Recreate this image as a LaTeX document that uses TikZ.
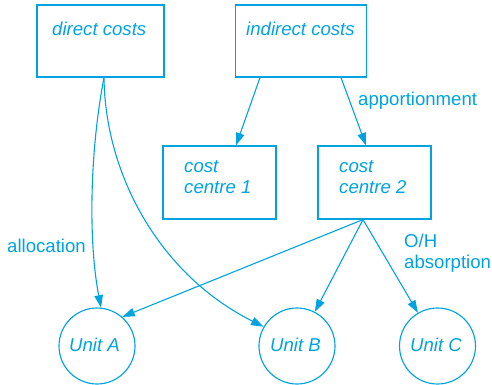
\documentclass[tikz,border=0pt]{standalone}
\usepackage{fontspec}
\setmainfont{Liberation Sans}
\usetikzlibrary{arrows.meta,calc}
\definecolor{cy}{RGB}{0,163,224}
\begin{document}
\begin{tikzpicture}[x=1pt,y=-1pt,
  every node/.style={font=\fontsize{18.6}{21.5}\selectfont, text=cy},
  box/.style={draw=cy, line width=1.15pt, rectangle, inner sep=0pt},
  unit/.style={draw=cy, line width=1.15pt, circle, minimum size=76pt, inner sep=0pt, font=\fontsize{18.6}{21.5}\selectfont\itshape},
  boxtxt/.style={anchor=base west, inner sep=0pt, font=\fontsize{18.6}{21.5}\selectfont\itshape},
  lbl/.style={anchor=base west, inner sep=0pt, align=left},
  conn/.style={draw=cy, line width=1.1pt, -{Triangle[length=12.5pt,width=8.5pt]}}]
\useasboundingbox (0,0) rectangle (492,385);
% boxes
\node[box, minimum width=127pt, minimum height=72pt] (dc) at (100.5,41) {};
\node[box, minimum width=131pt, minimum height=72pt] (ic) at (301,41) {};
\node[box, minimum width=113pt, minimum height=73pt] (cc1) at (219.5,182.5) {};
\node[box, minimum width=113pt, minimum height=73pt] (cc2) at (374.5,182.5) {};
\node[boxtxt] (dct) at (52,36) {direct costs};
\node[boxtxt] (ict) at (246,36) {indirect costs};
\node[boxtxt] (c1a) at (184,172) {cost};
\node[boxtxt] (c1b) at (184,193) {centre 1};
\node[boxtxt] (c2a) at (339,172) {cost};
\node[boxtxt] (c2b) at (339,193) {centre 2};
% units
\node[unit] (A) at (97,346) {};
\node[unit] (B) at (297,346) {};
\node[unit] (C) at (437.5,346) {};
\node[boxtxt] (At) at (69,351) {Unit A};
\node[boxtxt] (Bt) at (270,351) {Unit B};
\node[boxtxt] (Ct) at (410,351) {Unit C};
% labels
\node[lbl] (ap) at (358,106) {apportionment};
\node[lbl] (al) at (7,252) {allocation};
\node[lbl] (oh1) at (404,247) {O/H};
\node[lbl] (oh2) at (404,268) {absorption};
% anchor points
\coordinate (dcs) at ($(dc.south)+(3.5,0)$);
\coordinate (ic1) at ($(ic.south)+(-41,0)$);
\coordinate (ic2) at ($(ic.south)+(40,0)$);
\coordinate (c1n) at ($(cc1.north)+(16.5,0)$);
\coordinate (c2n) at ($(cc2.north)+(-8.5,0)$);
\coordinate (c2s) at ($(cc2.south)+(-11.5,0)$);
% connectors
\draw[conn] (dcs) .. controls (90,150) and (88,240) .. (A.84);
\draw[conn] (dcs) .. controls (105,175) and (160,275) .. (B.150);
\draw[conn] (ic1) -- (c1n);
\draw[conn] (ic2) -- (c2n);
\draw[conn] (c2s) -- (A.49);
\draw[conn] (c2s) -- (B);
\draw[conn] (c2s) -- (C);
\end{tikzpicture}
\end{document}
